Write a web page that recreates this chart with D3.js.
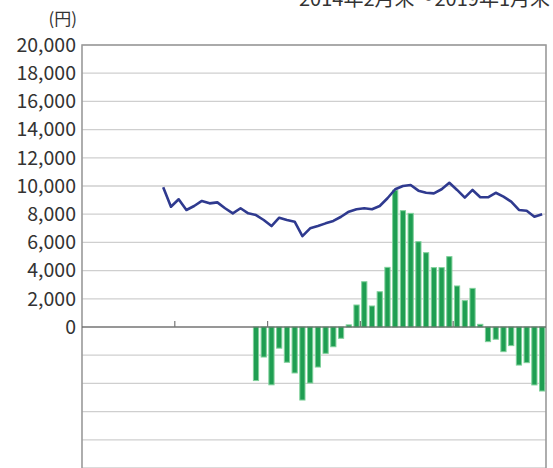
<!DOCTYPE html>
<meta charset="utf-8">
<style>
 body { margin: 0; background: #fff; }
 svg { display: block; font-family: "Noto Sans CJK JP", "Noto Sans", sans-serif; }
 .grid line { stroke: #cfcfcf; stroke-width: 1.3px; }
 .ylab text { fill: #333; font-size: 19.5px; }
 .bar { fill: #1f9e52; stroke: #7fd09a; stroke-width: 1px; }
 .nav { fill: none; stroke: #2f3a8f; stroke-width: 2.6px; stroke-linejoin: round; }
</style>
<svg class="chart"></svg>
<script src="https://cdn.jsdelivr.net/npm/d3@7"></script>
<script>
 var width = 553, height = 468;

 var title = "2014年2月末～2019年1月末";
 var unit = "(円)";

 // months 2014-02 .. 2019-01
 var months = d3.timeMonth.range(new Date(2014, 1, 1), new Date(2019, 1, 1));

 // price line (first 10 months before launch are empty)
 var navValues = [null, null, null, null, null, null, null, null, null, null,
     9910, 8530, 9060, 8300, 8580, 8940, 8770, 8840, 8420, 8060,
     8420, 8060, 7940, 7590, 7160, 7750, 7590, 7470, 6450, 7000,
     7160, 7350, 7520, 7820, 8180, 8350, 8420, 8350, 8580, 9130,
     9770, 10000, 10070, 9670, 9520, 9480, 9770, 10230, 9720, 9170,
     9720, 9200, 9200, 9520, 9240, 8890, 8300, 8250, 7820, 7990];

 // monthly flow bars
 var flowValues = [null, null, null, null, null, null, null, null, null, null,
     null, null, null, null, null, null, null, null, null, null,
     null, null, -3800, -2130, -4100, -1500, -2500, -3260, -5180, -3970,
     -2840, -1870, -1400, -800, 150, 1560, 3210, 1490, 2500, 4230,
     9700, 8250, 8060, 6050, 5270, 4210, 4210, 4990, 2910, 1870,
     2740, 190, -1040, -870, -1750, -1320, -2700, -2530, -4110, -4540];

 var yTicks = [0, 2000, 4000, 6000, 8000, 10000, 12000, 14000, 16000, 18000, 20000];
 var gridTicks = [-10000, -8000, -6000, -4000, -2000].concat(yTicks);

 var plotL = 82, plotR = 546, plotT = 45;

 var svg = d3.select(".chart").attr("width", width).attr("height", height);

 var y = d3.scaleLinear().domain([-20000, 20000]).range([plotT + 564, plotT]);
 var bx = d3.scaleLinear().domain([0, months.length]).range([plotL, plotR]);

 // grid
 svg.append("g").attr("class", "grid").selectAll("line").data(gridTicks).enter()
    .append("line")
    .attr("x1", plotL).attr("x2", plotR)
    .attr("y1", function(d) { return y(d); }).attr("y2", function(d) { return y(d); });

 // frame
 svg.append("path")
    .attr("d", "M" + plotL + "," + height + "V" + y(20000) + "H" + plotR + "V" + height)
    .attr("fill", "none").attr("stroke", "#9a9a9a").attr("stroke-width", 1.6);

 // bars
 svg.selectAll(".bar").data(flowValues.map(function(v, i) { return {i: i, v: v}; })
                                   .filter(function(d) { return d.v !== null; }))
    .enter().append("rect").attr("class", "bar")
    .attr("x", function(d) { return bx(d.i + 0.5) - 2.6; })
    .attr("width", 5.2)
    .attr("y", function(d) { return y(Math.max(0, d.v)); })
    .attr("height", function(d) { return Math.abs(y(d.v) - y(0)); });

 // zero line + year ticks
 svg.append("line").attr("x1", plotL).attr("x2", plotR)
    .attr("y1", y(0)).attr("y2", y(0)).attr("stroke", "#555").attr("stroke-width", 1.2);
 svg.selectAll(".ytick").data([12, 24, 36, 48]).enter().append("line")
    .attr("x1", function(d) { return bx(d); }).attr("x2", function(d) { return bx(d); })
    .attr("y1", y(0) - 6).attr("y2", y(0)).attr("stroke", "#777").attr("stroke-width", 1.2);

 // line
 var line = d3.line()
    .defined(function(d) { return d !== null; })
    .x(function(d, i) { return bx(i + 0.5); })
    .y(function(d) { return y(d); });
 svg.append("path").attr("class", "nav").attr("d", line(navValues));

 // y labels
 svg.append("g").attr("class", "ylab").selectAll("text").data(yTicks).enter()
    .append("text")
    .attr("x", 76).attr("y", function(d) { return y(d); })
    .attr("dy", "0.35em").attr("text-anchor", "end")
    .text(function(d) { return d3.format(",")(d); });

 svg.append("text").attr("x", 77).attr("y", 25).attr("text-anchor", "end")
    .attr("fill", "#333").attr("font-size", 17).text(unit);

 svg.append("text").attr("x", 550).attr("y", 6).attr("text-anchor", "end")
    .attr("fill", "#333").attr("font-size", 20).text(title);
</script>
